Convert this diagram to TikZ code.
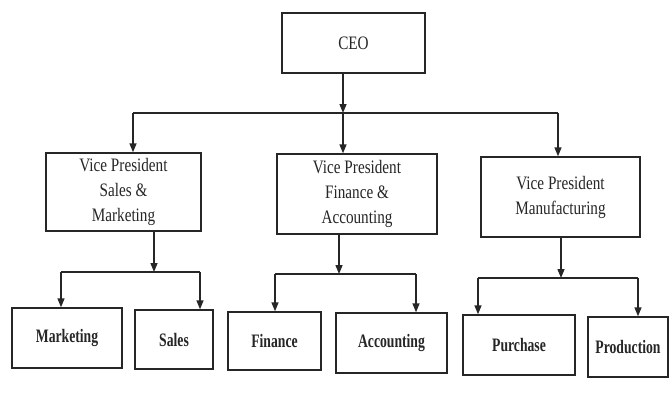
\documentclass[tikz,border=0pt]{standalone}
\usepackage{fontspec}
\usetikzlibrary{arrows.meta}
\newfontfamily\boxfont[FakeStretch=0.8]{Liberation Serif}
\newfontfamily\deptfont[FakeStretch=0.72]{Liberation Serif Bold}
\begin{document}
\begin{tikzpicture}[x=1pt,y=-1pt,
  unit/.style={draw=black!85,line width=1.4pt,fill=white,inner sep=0pt,
    align=center,font=\boxfont\fontsize{19}{25}\selectfont,text=black!85},
  dept/.style={unit,font=\deptfont\fontsize{19}{25}\selectfont},
  link/.style={draw=black!85,line width=1.4pt},
  arr/.style={link,-{Triangle[length=9pt,width=7pt]}}]
\useasboundingbox (0,0) rectangle (669,400);
% top level
\node[unit,minimum width=143pt,minimum height=60pt] (ceo) at (353.5,43) {CEO};
% vice presidents
\node[unit,minimum width=155pt,minimum height=78pt] (vps) at (123.5,192)
  {Vice President\\Sales \&\\Marketing};
\node[unit,minimum width=160pt,minimum height=80pt] (vpf) at (357,194)
  {Vice President\\Finance \&\\Accounting};
\node[unit,minimum width=159pt,minimum height=80pt] (vpm) at (560.5,197)
  {Vice President\\Manufacturing};
% departments
\node[dept,minimum width=110pt,minimum height=60pt] (mkt) at (67,338) {Marketing};
\node[dept,minimum width=78pt,minimum height=59pt] (sal) at (174,339.5) {Sales};
\node[dept,minimum width=93pt,minimum height=58pt] (fin) at (274.5,341) {Finance};
\node[dept,minimum width=111pt,minimum height=60pt] (acc) at (391.5,343) {Accounting};
\node[dept,minimum width=112pt,minimum height=60pt] (pur) at (519,345) {Purchase};
\node[dept,minimum width=80pt,minimum height=60pt] (pro) at (628,347) {Production};
% CEO to vice presidents
\coordinate (b0) at (343,113);
\coordinate (b0l) at (133,113);
\coordinate (b0r) at (558,113);
\draw[arr] (ceo.south -| b0) -- (b0);
\draw[link] (b0l) -- (b0r);
\draw[arr] (b0l) -- (b0l |- vps.north);
\draw[arr] (b0) -- (b0 |- vpf.north);
\draw[arr] (b0r) -- (b0r |- vpm.north);
% sales & marketing
\coordinate (b1) at (154,272);
\coordinate (b1l) at (61,272);
\coordinate (b1r) at (200,272);
\draw[arr] (vps.south -| b1) -- (b1);
\draw[link] (b1l) -- (b1r);
\draw[arr] (b1l) -- (b1l |- mkt.north);
\draw[arr] (b1r) -- (b1r |- sal.north);
% finance & accounting
\coordinate (b2) at (339,274);
\coordinate (b2l) at (275,274);
\coordinate (b2r) at (416,274);
\draw[arr] (vpf.south -| b2) -- (b2);
\draw[link] (b2l) -- (b2r);
\draw[arr] (b2l) -- (b2l |- fin.north);
\draw[arr] (b2r) -- (b2r |- acc.north);
% manufacturing
\coordinate (b3) at (561,278);
\coordinate (b3l) at (478,278);
\coordinate (b3r) at (638,278);
\draw[arr] (vpm.south -| b3) -- (b3);
\draw[link] (b3l) -- (b3r);
\draw[arr] (b3l) -- (b3l |- pur.north);
\draw[arr] (b3r) -- (b3r |- pro.north);
\end{tikzpicture}
\end{document}
